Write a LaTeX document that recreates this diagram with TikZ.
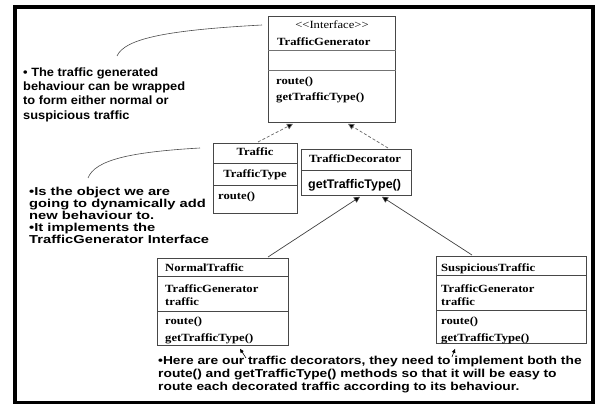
\documentclass[tikz,border=0pt]{standalone}
\usepackage{fontspec}
\usetikzlibrary{arrows.meta,calc}
\setmainfont{Liberation Serif}
\newfontfamily\umlfont[FakeStretch=1.15]{Liberation Serif}
\newfontfamily\noteAfont[FakeStretch=1.07]{Liberation Sans}
\newfontfamily\noteBfont[FakeStretch=1.28]{Liberation Sans}
\newfontfamily\noteCfont[FakeStretch=1.2]{Liberation Sans}
\newfontfamily\opfont{Liberation Sans}

\tikzset{
  umlbox/.style={draw=black!72, line width=0.8pt, fill=white, inner sep=0pt, anchor=north west},
  divider/.style={draw=black!72, line width=0.8pt},
  gdivider/.style={draw=black!55, line width=1pt},
  umltext/.style={inner sep=0pt, anchor=base west, font=\umlfont\bfseries\fontsize{11}{13}\selectfont},
  umlcentre/.style={umltext, anchor=base},
  realize/.style={draw=black!60, line width=0.7pt, dash pattern=on 3pt off 2pt,
    -{Triangle[length=6pt,width=6pt,fill=black]}},
  extend/.style={draw=black!75, line width=0.7pt,
    -{Triangle[length=6pt,width=6pt,fill=black]}},
  pointer/.style={draw=black, line width=0.6pt,
    -{Triangle[length=4pt,width=3.5pt,fill=black]}},
  note/.style={inner sep=0pt, anchor=north west, align=left},
  remark/.style={draw=black!70, line width=0.6pt},
}

\begin{document}
\begin{tikzpicture}[x=1pt, y=-1pt]
\useasboundingbox (0,0) rectangle (598,404);

% outer frame
\draw[line width=4pt] (15,7) rectangle (593,403);

% ---------- interface ----------
\node[umlbox, minimum width=127pt, minimum height=106pt] (tg) at (268,16) {};
\draw[gdivider] ($(tg.north west)+(0,35)$) -- ($(tg.north east)+(0,35)$);
\draw[gdivider] ($(tg.north west)+(0,55)$) -- ($(tg.north east)+(0,55)$);
\node[inner sep=0pt, anchor=base, font=\umlfont\fontsize{11}{13}\selectfont] (tgstereo) at (332,28.5) {<<Interface>>};
\node[umltext] (tgname) at (277,45.5) {TrafficGenerator};
\node[umltext] (tgop1) at (276,84.5) {route()};
\node[umltext] (tgop2) at (276,100.5) {getTrafficType()};

% ---------- concrete component ----------
\node[umlbox, minimum width=84pt, minimum height=70pt] (tr) at (213,143) {};
\draw[divider] ($(tr.north west)+(0,20)$) -- ($(tr.north east)+(0,20)$);
\draw[divider] ($(tr.north west)+(0,42)$) -- ($(tr.north east)+(0,42)$);
\node[umlcentre] (trname) at (255,155.5) {Traffic};
\node[umlcentre] (trattr) at (255,178) {TrafficType};
\node[umltext] (trop) at (218,200) {route()};

% ---------- decorator ----------
\node[umlbox, minimum width=110pt, minimum height=46pt] (td) at (301,149) {};
\draw[divider] ($(td.north west)+(0,21)$) -- ($(td.north east)+(0,21)$);
\node[umltext] (tdname) at (309,162.5) {TrafficDecorator};
\node[inner sep=0pt, anchor=base west, font=\opfont\bfseries\fontsize{12.5}{14}\selectfont] (tdop) at (308,188.5) {getTrafficType()};

% ---------- normal decorator ----------
\node[umlbox, minimum width=131pt, minimum height=87pt] (nt) at (157,258) {};
\draw[divider] ($(nt.north west)+(0,18)$) -- ($(nt.north east)+(0,18)$);
\draw[divider] ($(nt.north west)+(0,53)$) -- ($(nt.north east)+(0,53)$);
\node[umltext] (ntname) at (165,271.5) {NormalTraffic};
\node[umltext] (ntattr1) at (165,292) {TrafficGenerator};
\node[umltext] (ntattr2) at (165,305) {traffic};
\node[umltext] (ntop1) at (165,324.5) {route()};
\node[umltext] (ntop2) at (165,341) {getTrafficType()};

% ---------- suspicious decorator ----------
\node[umlbox, minimum width=150pt, minimum height=87pt] (st) at (436,256) {};
\draw[divider] ($(st.north west)+(0,19)$) -- ($(st.north east)+(0,19)$);
\draw[divider] ($(st.north west)+(0,54)$) -- ($(st.north east)+(0,54)$);
\node[umltext] (stname) at (441,271.5) {SuspiciousTraffic};
\node[umltext] (stattr1) at (441,292) {TrafficGenerator};
\node[umltext] (stattr2) at (441,305) {traffic};
\node[umltext] (stop1) at (441,324.5) {route()};
\node[umltext] (stop2) at (441,341) {getTrafficType()};

% ---------- relations ----------
\draw[realize] ($(tr.north west)+(45,-1)$) -- ($(tg.south west)+(25,1)$);
\draw[realize] ($(td.north west)+(87,-1)$) -- ($(tg.south west)+(80,1)$);
\draw[extend] ($(nt.north west)+(111,-1)$) -- ($(td.south west)+(59,1)$);
\draw[extend] ($(st.north west)+(36,-1)$) -- ($(td.south west)+(81,1)$);

% ---------- notes ----------
\node[note, font=\noteAfont\bfseries\fontsize{12}{14.3}\selectfont] (noteA) at (23,67.5)
  {• The traffic generated\\behaviour can be wrapped\\to form either normal or\\suspicious traffic};
\node[note, font=\noteBfont\bfseries\fontsize{11.5}{12.1}\selectfont] (noteB) at (29,187)
  {•Is the object we are\\going to dynamically add\\new behaviour to.\\•It implements the\\TrafficGenerator Interface};
\node[note, font=\noteCfont\bfseries\fontsize{11.5}{13.4}\selectfont] (noteC) at (158,355.5)
  {•Here are our traffic decorators, they need to implement both the\\route() and getTrafficType() methods so that it will be easy to\\route each decorated traffic according to its behaviour.};

\coordinate (cA0) at (117,56);
\coordinate (cA1) at (262,25);
\draw[remark] (cA0) .. controls (125,38) and (170,30) .. (cA1);
\coordinate (cB0) at (88,178);
\coordinate (cB1) at (200,148);
\draw[remark] (cB0) .. controls (95,160) and (130,152) .. (cB1);

\coordinate (pN) at (246,358);
\coordinate (pS) at (452,357);
\draw[pointer] (pN) -- ($(nt.south west)+(83,3)$);
\draw[pointer] (pS) -- ($(st.south west)+(19,5)$);
\end{tikzpicture}
\end{document}
